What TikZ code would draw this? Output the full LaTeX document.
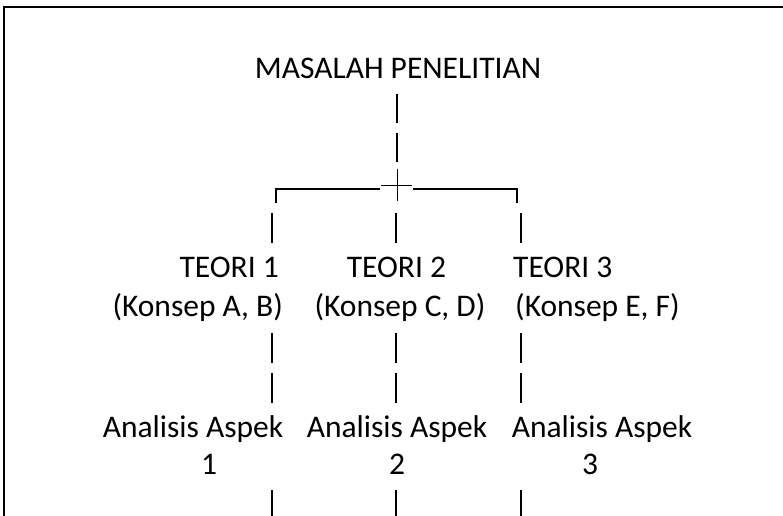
\documentclass[tikz,border=0pt]{standalone}
\usepackage{fontspec}
\setmainfont{Carlito}
\begin{document}
\begin{tikzpicture}[x=1pt,y=-1pt,
  txt/.style={inner sep=0pt, font=\fontsize{31.5}{37}\selectfont},
  bar/.style={line width=1.4pt},
  hline/.style={line width=1.4pt},
  thinline/.style={line width=0.8pt},
  frame/.style={line width=2pt}]
\useasboundingbox (0,0) rectangle (783,515);
% frame (top and left edges)
\coordinate (fbl) at (4,520);
\coordinate (ftl) at (4,7);
\coordinate (ftr) at (790,7);
\draw[frame] (fbl) -- (ftl) -- (ftr);

% texts
\node[txt, anchor=base] (m) at (398,78) {MASALAH PENELITIAN};
\node[txt, anchor=base east] (t1) at (279,277) {TEORI 1};
\node[txt, anchor=base] (t2) at (396.5,277) {TEORI 2};
\node[txt, anchor=base west] (t3) at (513,277) {TEORI 3};
\node[txt, anchor=base east] (k1) at (283,316) {(Konsep A, B)};
\node[txt, anchor=base] (k2) at (400,316) {(Konsep C, D)};
\node[txt, anchor=base west] (k3) at (515,316) {(Konsep E, F)};
\node[txt, anchor=base] (a1) at (193,437) {Analisis Aspek};
\node[txt, anchor=base] (a2) at (397,437) {Analisis Aspek};
\node[txt, anchor=base] (a3) at (602,437) {Analisis Aspek};
\node[txt, anchor=base] (n1) at (209,474) {1};
\node[txt, anchor=base] (n2) at (397,474) {2};
\node[txt, anchor=base] (n3) at (590,474) {3};

% trunk from the problem to the junction
\coordinate (mtop) at (397,94);
\coordinate (mbot) at (397,163);
\draw[bar, dash pattern=on 29pt off 10pt] (mtop) -- (mbot);

% junction cross
\coordinate (j) at (397,185);
\draw[thinline] ([yshift=-16pt]j) -- ([yshift=16pt]j);
\draw[thinline] ([xshift=-16pt]j) -- ([xshift=15pt]j);

% branch line with corners
\coordinate (cl) at (276,189);
\coordinate (cr) at (517,189);
\draw[hline] (cl |- 0,203) -- (cl) -- (380,189);
\draw[hline] (413,189) -- (cr) -- (cr |- 0,203);

% bars between the rows
\foreach \x/\n in {272/1,396/2,521/3}{
  \coordinate (u\n a) at (\x,213);
  \coordinate (u\n b) at (\x,243);
  \draw[bar] (u\n a) -- (u\n b);
  \coordinate (v\n a) at (\x,333);
  \coordinate (v\n b) at (\x,404);
  \draw[bar, dash pattern=on 30pt off 10pt] (v\n a) -- (v\n b);
  \coordinate (w\n a) at (\x,490);
  \coordinate (w\n b) at (\x,520);
  \draw[bar] (w\n a) -- (w\n b);
}
\end{tikzpicture}
\end{document}
